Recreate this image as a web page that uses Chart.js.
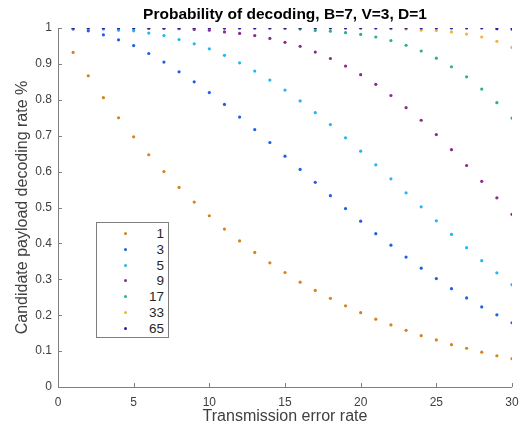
<!DOCTYPE html>
<html>
<head>
<meta charset="utf-8">
<script src="https://cdn.jsdelivr.net/npm/chart.js@4/dist/chart.umd.min.js"></script>
<style>
  html, body { margin: 0; padding: 0; background: #fff; }
  #wrap { position: relative; width: 521px; height: 429px; }
  #legend {
    position: absolute; left: 96px; top: 222px; width: 71px; height: 114px;
    border: 1.5px solid #7f7f7f; background: #fff;
    font-family: "Liberation Sans", Arial, sans-serif; font-size: 13.5px; color: #262626;
  }
  #legend .row { position: absolute; left: 0; width: 71px; height: 16px; line-height: 16px; }
  #legend .dot { position: absolute; left: 27px; top: 6px; width: 3px; height: 3px; border-radius: 50%; }
  #legend .lab { position: absolute; right: 4px; top: 0; text-align: right; }
</style>
</head>
<body>
<div id="wrap">
  <canvas id="c" width="521" height="429"></canvas>
  <div id="legend"></div>
</div>
<script>
(function () {
  "use strict";

  const title = "Probability of decoding, B=7, V=3, D=1";
  const xs = [1,2,3,4,5,6,7,8,9,10,11,12,13,14,15,16,17,18,19,20,21,22,23,24,25,26,27,28,29,30];
  const names = ["1", "3", "5", "9", "17", "33", "65"];
  const colors = ["#d4841a", "#1f5fe0", "#25b6ef", "#8c2a8c", "#2db37a", "#f0b440", "#2c1fa6"];

  const s1 = [0.932,0.867,0.806,0.750,0.697,0.647,0.600,0.556,0.515,0.477,0.440,0.407,0.375,0.346,0.319,
              0.292,0.269,0.247,0.226,0.207,0.189,0.173,0.158,0.143,0.131,0.118,0.108,0.097,0.087,0.079];
  const s3 = [0.997,0.992,0.981,0.967,0.951,0.929,0.905,0.878,0.850,0.820,0.787,0.752,0.717,0.681,0.643,
              0.606,0.570,0.533,0.497,0.462,0.427,0.395,0.362,0.331,0.302,0.274,0.248,0.223,0.201,0.179];
  const s5 = [1.000,0.999,0.997,0.994,0.992,0.986,0.979,0.968,0.956,0.942,0.924,0.903,0.880,0.855,0.827,
              0.797,0.764,0.731,0.694,0.657,0.619,0.580,0.541,0.502,0.463,0.425,0.388,0.352,0.318,0.285];
  const s9 = [1.000,1.000,1.000,1.000,1.000,0.999,0.999,0.998,0.996,0.994,0.989,0.985,0.979,0.971,0.960,
              0.949,0.933,0.915,0.894,0.870,0.843,0.812,0.778,0.743,0.703,0.661,0.617,0.573,0.527,0.481];
  const s17 = [1.000,1.000,1.000,1.000,1.000,1.000,1.000,1.000,1.000,1.000,1.000,1.000,1.000,1.000,0.999,
               0.997,0.993,0.991,0.987,0.982,0.975,0.965,0.952,0.936,0.916,0.892,0.864,0.830,0.792,0.749];
  const s33 = [1.000,1.000,1.000,1.000,1.000,1.000,1.000,1.000,1.000,1.000,1.000,1.000,1.000,1.000,1.000,
               1.000,1.000,1.000,1.000,1.000,1.000,0.998,0.997,0.994,0.993,0.989,0.983,0.975,0.963,0.946];
  const s65 = [1.000,1.000,1.000,1.000,1.000,1.000,1.000,1.000,1.000,1.000,1.000,1.000,1.000,1.000,1.000,
               1.000,1.000,1.000,1.000,1.000,1.000,1.000,1.000,1.000,1.000,1.000,1.000,1.000,0.998,0.997];
  const series = [s1, s3, s5, s9, s17, s33, s65];

  const xTicks = [0, 5, 10, 15, 20, 25, 30];
  const yTicks = [0, 0.1, 0.2, 0.3, 0.4, 0.5, 0.6, 0.7, 0.8, 0.9, 1];

  const FONT = '"Liberation Sans", Arial, sans-serif';
  const AXIS = "#7f7f7f";
  const TEXT = "#404040";

  // ticks pointing into the plot + title centred over the plot area
  const axesDecor = {
    id: "axesDecor",
    afterDraw(chart) {
      const ctx = chart.ctx, a = chart.chartArea;
      const x = chart.scales.x, y = chart.scales.y;
      ctx.save();
      ctx.strokeStyle = AXIS;
      ctx.lineWidth = 1;
      ctx.beginPath();
      ctx.moveTo(a.left + 0.5, a.top);
      ctx.lineTo(a.left + 0.5, a.bottom + 0.5);
      ctx.lineTo(a.right, a.bottom + 0.5);
      for (const v of xTicks) {
        const px = Math.round(x.getPixelForValue(v)) + 0.5;
        ctx.moveTo(px, a.bottom);
        ctx.lineTo(px, a.bottom - 4);
      }
      for (const v of yTicks) {
        const py = Math.round(y.getPixelForValue(v)) + 0.5;
        ctx.moveTo(a.left, py);
        ctx.lineTo(a.left + 4, py);
      }
      ctx.stroke();
      ctx.fillStyle = "#000";
      ctx.font = "bold 15.5px " + FONT;
      ctx.textAlign = "center";
      ctx.textBaseline = "middle";
      ctx.fillText(title, (a.left + a.right) / 2, 15);
      ctx.restore();
    },
  };

  const datasets = series.map(function (s, i) {
    return {
      label: names[i],
      data: xs.map(function (x, j) { return { x: x, y: s[j] }; }),
      backgroundColor: colors[i],
      borderColor: colors[i],
      pointRadius: 1.6,
      pointBorderWidth: 0,
      showLine: false,
      order: series.length - 1 - i,
    };
  });

  new Chart(document.getElementById("c"), {
    type: "scatter",
    data: { datasets },
    options: {
      responsive: false,
      animation: false,
      layout: { padding: { left: 0, right: 9, top: 28, bottom: 0 } },
      plugins: {
        legend: { display: false },
        tooltip: { enabled: false },
        title: { display: false },
      },
      scales: {
        x: {
          type: "linear",
          min: 0, max: 30,
          afterBuildTicks(s) { s.ticks = xTicks.map(function (v) { return { value: v }; }); },
          afterFit(s) { s.height = 42; },
          // invisible tick marks only push the labels down
          grid: { display: true, drawOnChartArea: false, drawTicks: true, tickLength: 6, color: "rgba(0,0,0,0)" },
          border: { display: false },
          ticks: { color: TEXT, font: { family: FONT, size: 12 }, padding: 2, maxRotation: 0 },
          title: { display: true, text: "Transmission error rate", color: TEXT, font: { family: FONT, size: 16 }, padding: { top: 0, bottom: 3 } },
        },
        y: {
          min: 0, max: 1,
          afterBuildTicks(s) { s.ticks = yTicks.map(function (v) { return { value: v }; }); },
          afterFit(s) { s.width = 58; },
          grid: { display: false, drawTicks: false },
          border: { display: false },
          ticks: { color: TEXT, font: { family: FONT, size: 12 }, padding: 6,
                   callback: function (v) { return String(Math.round(v * 10) / 10); } },
          title: { display: true, text: "Candidate payload decoding rate %", color: TEXT, font: { family: FONT, size: 16 }, padding: { top: 13, bottom: 0 } },
        },
      },
    },
    plugins: [axesDecor],
  });

  // legend box inside the plot
  const leg = document.getElementById("legend");
  names.forEach(function (n, i) {
    const row = document.createElement("div");
    row.className = "row";
    row.style.top = (3 + i * 15.8) + "px";
    row.innerHTML = '<span class="dot" style="background:' + colors[i] + '"></span><span class="lab">' + n + "</span>";
    leg.appendChild(row);
  });
})();
</script>
</body>
</html>
